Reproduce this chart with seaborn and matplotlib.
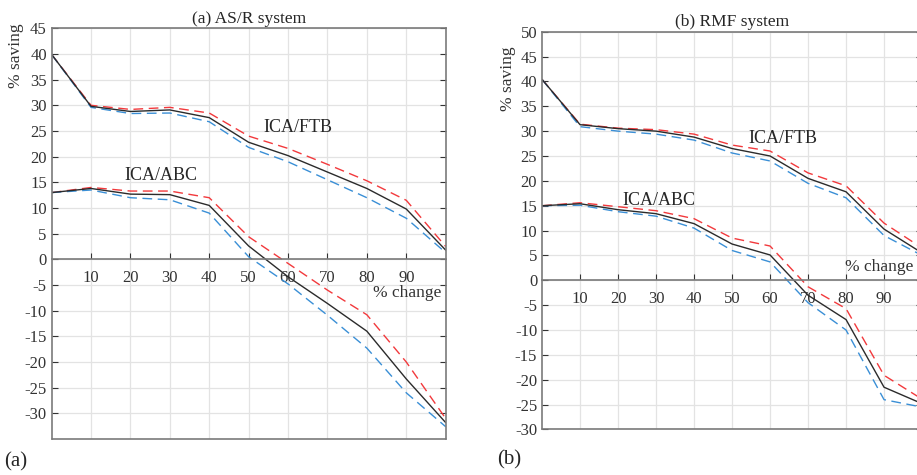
import numpy as np
import matplotlib
matplotlib.use('Agg')
import matplotlib.pyplot as plt
import seaborn as sns

sns.set_style('white')
plt.rcParams['font.family'] = ['Liberation Serif', 'DejaVu Serif']
plt.rcParams['axes.unicode_minus'] = False

# % change levels
pct_change = [0, 10, 20, 30, 40, 50, 60, 70, 80, 90, 100]

# (a) AS/R system
asr_ftb_mid = [39.9, 29.8, 28.8, 29.1, 27.6, 22.8, 20.2, 17.0, 13.8, 9.8, 1.8]
asr_ftb_hi = [39.9, 30.0, 29.2, 29.6, 28.5, 24.0, 21.6, 18.5, 15.3, 11.5, 2.5]
asr_ftb_lo = [39.9, 29.6, 28.4, 28.5, 26.8, 21.8, 19.0, 15.5, 12.0, 8.0, 1.3]
asr_abc_mid = [13.0, 13.8, 12.7, 12.6, 10.5, 2.6, -3.4, -8.6, -14.0, -23.3, -31.8]
asr_abc_hi = [13.0, 14.0, 13.3, 13.3, 12.0, 4.4, -0.8, -6.0, -10.8, -20.0, -31.0]
asr_abc_lo = [13.0, 13.5, 12.0, 11.6, 9.0, 0.5, -4.8, -10.9, -17.3, -26.0, -32.6]

# (b) RMF system
rmf_ftb_mid = [40.4, 31.3, 30.5, 30.0, 28.8, 26.5, 25.0, 20.5, 17.8, 10.3, 5.5]
rmf_ftb_hi = [40.4, 31.4, 30.6, 30.3, 29.4, 27.2, 26.0, 21.6, 19.0, 11.5, 6.5]
rmf_ftb_lo = [40.4, 30.9, 30.0, 29.4, 28.2, 25.6, 24.0, 19.5, 16.6, 9.0, 5.0]
rmf_abc_mid = [15.0, 15.4, 14.2, 13.4, 11.4, 7.3, 5.1, -3.0, -7.9, -21.5, -24.8]
rmf_abc_hi = [15.0, 15.6, 14.8, 14.0, 12.4, 8.5, 6.9, -1.3, -5.7, -19.1, -23.9]
rmf_abc_lo = [15.0, 15.1, 13.8, 12.9, 10.5, 6.0, 3.7, -4.5, -10.0, -24.0, -25.5]

x_ticks = [10, 20, 30, 40, 50, 60, 70, 80, 90]

C_MID = '#2b2b2b'
C_HI = '#f2393c'
C_LO = '#3a8fd6'
FRAME = '#7a7a7a'

fig = plt.figure(figsize=(9.17, 4.75), dpi=100)
ax_a = fig.add_axes([0.0563, 0.0758, 0.4297, 0.8646])
ax_b = fig.add_axes([0.5911, 0.0958, 0.4144, 0.8375])


def draw_panel(ax, series, ylim, yticks, title, ftb_pos, abc_pos, change_pos):
    for mid, hi, lo in series:
        sns.lineplot(x=pct_change, y=hi, ax=ax, color=C_HI, lw=1.0,
                     linestyle=(0, (7, 4)))
        sns.lineplot(x=pct_change, y=lo, ax=ax, color=C_LO, lw=1.0,
                     linestyle=(0, (7, 4)))
        sns.lineplot(x=pct_change, y=mid, ax=ax, color=C_MID, lw=1.0)
    ax.set_xlim(0, 100)
    ax.set_ylim(*ylim)
    ax.set_xticks(x_ticks)
    ax.set_yticks(yticks)
    ax.grid(True, color='#e3e3e3', lw=0.9)
    ax.set_axisbelow(True)
    for s in ax.spines.values():
        s.set_color(FRAME)
        s.set_linewidth(1.2)
        s.set_visible(True)
    # x axis runs through zero, box stays closed at the bottom
    ax.spines['bottom'].set_position(('data', 0))
    ax.plot([0, 1], [0, 0], transform=ax.transAxes, color=FRAME, lw=1.2,
            clip_on=False)
    ax.tick_params(axis='both', direction='in', length=4, color='#333333',
                   labelsize=12, labelcolor='#333333', right=True, left=True)
    ax.tick_params(axis='x', pad=8, bottom=True)
    ax.set_xlabel('')
    ax.set_ylabel('')
    ax.set_title(title, fontsize=12.5, pad=4)
    ax.text(*ftb_pos, 'ICA/FTB', fontsize=13, ha='center', va='center')
    ax.text(*abc_pos, 'ICA/ABC', fontsize=13, ha='center', va='center')
    ax.text(*change_pos, '% change', fontsize=12.5, ha='right', va='center',
            color='#333333')


draw_panel(ax_a,
           [(asr_ftb_mid, asr_ftb_hi, asr_ftb_lo),
            (asr_abc_mid, asr_abc_hi, asr_abc_lo)],
           (-35, 45), np.arange(-30, 46, 5), '(a) AS/R system',
           (62.5, 25.6), (27.8, 16.4), (99, -6.6))
draw_panel(ax_b,
           [(rmf_ftb_mid, rmf_ftb_hi, rmf_ftb_lo),
            (rmf_abc_mid, rmf_abc_hi, rmf_abc_lo)],
           (-30, 50), np.arange(-30, 51, 5), '(b) RMF system',
           (63.4, 28.6), (30.8, 16.1), (97.8, 2.6))

fig.text(16 / 917, 1 - 56 / 475, '% saving', rotation=90, fontsize=12.5,
         ha='center', va='center', color='#333333')
fig.text(508 / 917, 1 - 79 / 475, '% saving', rotation=90, fontsize=12.5,
         ha='center', va='center', color='#333333')
fig.text(4 / 917, 1 - 462 / 475, '(a)', fontsize=15, ha='left', va='center')
fig.text(497 / 917, 1 - 460 / 475, '(b)', fontsize=15, ha='left', va='center')

fig.savefig('out.png', dpi=100)
